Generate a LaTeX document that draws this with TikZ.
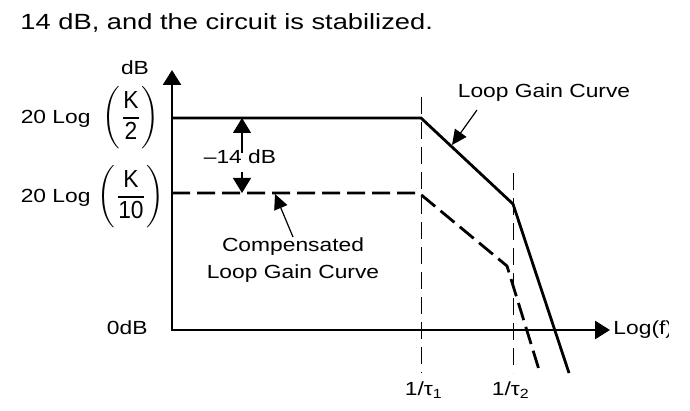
\documentclass[tikz,border=0pt]{standalone}
\usepackage{fontspec}
\setmainfont{Liberation Sans}
\usetikzlibrary{arrows.meta, positioning}

\tikzset{
  lbl/.style={font=\fontsize{9.5}{13.5}\selectfont, xscale=1.2, inner sep=0pt},
  fracbox/.style={lbl, yscale=1.3},
  caption/.style={font=\fontsize{11}{13}\selectfont, xscale=1.24, inner sep=0pt},
  axis/.style={line width=1.3pt, line join=miter,
    {Triangle[length=7.5pt,width=9pt]}-{Triangle[length=7.5pt,width=9pt]}},
  gain/.style={line width=1.4pt, line join=miter},
  compgain/.style={gain, dash pattern=on 9pt off 3.5pt},
  guide/.style={line width=0.5pt, dash pattern=on 8.5pt off 4pt},
  callout/.style={line width=0.6pt, -{Triangle[length=7.5pt,width=7pt]}},
  dimarrow/.style={line width=0.6pt, -{Triangle[length=7.5pt,width=9pt]}},
}

\begin{document}
\begin{tikzpicture}[x=0.5pt, y=-0.5pt]
\useasboundingbox (0,0) rectangle (690,411);

\node[caption, anchor=base west] (caption) at (20,30) {14 dB, and the circuit is stabilized.};

% axes
\coordinate (origin) at (172,330);
\coordinate (y-top) at (172,70);
\coordinate (x-end) at (610,330);
\draw[axis] (y-top) |- (x-end);

\node[lbl] (db) at (135,68) {dB};
\node[lbl, anchor=east] (zero-db) at (148,328) {0dB};
\begin{scope}
\clip (0,0) rectangle (668,411);
\node[lbl, anchor=west] (log-f) at (613,330) {Log(f)};
\end{scope}

% gain levels
\node[lbl, anchor=base east] (log-k2) at (91,124) {20 Log};
\node[fracbox] (frac-k2) at (131,118) {$\displaystyle\left(\frac{\mbox{K}}{\mbox{2}}\right)$};
\node[lbl, anchor=base east] (log-k10) at (91,203) {20 Log};
\node[fracbox] (frac-k10) at (131,197) {$\displaystyle\left(\frac{\mbox{K}}{\mbox{10}}\right)$};

% break frequencies
\coordinate (t1-top) at (421,97);
\coordinate (t1-bot) at (421,373);
\coordinate (t2-top) at (513,173);
\coordinate (t2-bot) at (513,373);
\draw[guide] (t1-top) -- (t1-bot);
\draw[guide] (t2-top) -- (t2-bot);
\node[lbl, anchor=north] (tau1) at (424,381) {1/τ\textsubscript{1}};
\node[lbl, anchor=north] (tau2) at (511,381) {1/τ\textsubscript{2}};

% loop gain curve
\coordinate (lg-a) at (172,118);
\coordinate (lg-b) at (421,118);
\coordinate (lg-c) at (513,204);
\coordinate (lg-d) at (569,373);
\draw[gain] (lg-a) -- (lg-b) -- (lg-c) -- (lg-d);

% compensated curve
\coordinate (cg-a) at (172,193);
\coordinate (cg-b) at (419,193);
\coordinate (cg-c) at (507,266);
\coordinate (cg-d) at (540,373);
\draw[compgain] (cg-a) -- (cg-b) -- (cg-c) -- (cg-d);

% labels
\node[lbl] (lg-label) at (544,93) {Loop Gain Curve};
\coordinate (lg-from) at (477,110);
\coordinate (lg-tip) at (452,145);
\draw[callout] (lg-from) -- (lg-tip);

\node[lbl, align=center, anchor=north] (cg-label) at (293,237) {Compensated\\Loop Gain Curve};
\coordinate (cg-tip) at (275,194);
\draw[callout] (cg-label.north) -- (cg-tip);

\node[lbl] (drop) at (240,157) {--14 dB};
\draw[dimarrow] (drop.north) ++(2,3) -- (242,118);
\draw[dimarrow] (drop.south) ++(2,8) -- (242,193);
\end{tikzpicture}
\end{document}
